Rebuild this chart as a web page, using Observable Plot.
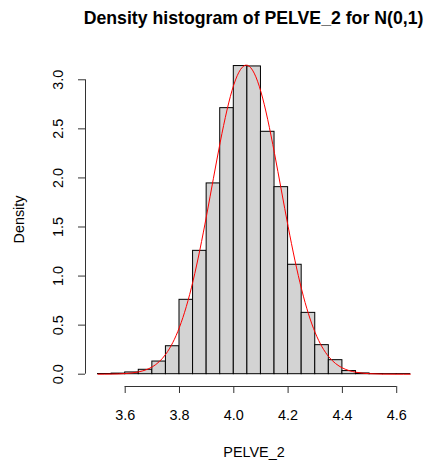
<!DOCTYPE html>
<html>
<head>
<meta charset="utf-8">
<script src="https://cdn.jsdelivr.net/npm/d3@7"></script>
<script src="https://cdn.jsdelivr.net/npm/@observablehq/plot@0.6"></script>
<style>
body{margin:0;background:#fff;font-family:"Liberation Sans",Arial,sans-serif;}
#title{position:relative;width:430px;height:40px;overflow:visible;}
#title span{position:absolute;left:253.5px;top:0;transform:translateX(-50%);font-weight:bold;font-size:17.7px;line-height:37.7px;white-space:nowrap;color:#000;}
</style>
</head>
<body>
<div id="title"><span>Density histogram of PELVE_2 for N(0,1)</span></div>
<div id="chart"></div>
<script>
// Histogram bin edges and densities
const binEdges = [3.50,3.55,3.60,3.65,3.70,3.75,3.80,3.85,3.90,3.95,4.00,4.05,4.10,4.15,4.20,4.25,4.30,4.35,4.40,4.45,4.50,4.55,4.60,4.65];
const binDensity = [0.002,0.006,0.018,0.045,0.129,0.285,0.758,1.257,1.944,2.711,3.140,3.136,2.470,1.906,1.115,0.625,0.296,0.143,0.032,0.008,0.002,0.001,0.001];

// Red normal density curve
const curveX = [3.50,3.55,3.60,3.65,3.70,3.75,3.80,3.85,3.90,3.95,4.00,4.05,4.10,4.15,4.20,4.25,4.30,4.35,4.40,4.45,4.50,4.55,4.60,4.65];
const curveY = [0.0003,0.0015,0.0064,0.024,0.075,0.206,0.479,0.951,1.621,2.364,2.949,3.148,2.877,2.249,1.506,0.862,0.422,0.177,0.064,0.020,0.005,0.001,0.0002,0.0000];

const xTicks = [3.6,3.8,4.0,4.2,4.4,4.6];
const yTicks = [0,0.5,1.0,1.5,2.0,2.5,3.0];

const bins = binDensity.map((d,i)=>({x1:binEdges[i], x2:binEdges[i+1], y:d}));
const curve = curveX.map((x,i)=>({x, y:curveY[i]}));

const xDomain = [3.4538, 4.695];
const yDomain = [-0.1253, 3.278];

const chart = Plot.plot({
  width: 430,
  height: 422,
  marginTop: 12,
  marginBottom: 76,
  marginLeft: 85,
  marginRight: 8,
  x: {domain: xDomain},
  y: {domain: yDomain},
  style: {fontFamily: '"Liberation Sans", Arial, sans-serif', fontSize: "14.4px", color: "#000", background: "#fff"},
  marks: [
    Plot.rectY(bins, {x1: "x1", x2: "x2", y1: 0, y2: "y", fill: "#d3d3d3", stroke: "#000", strokeWidth: 1}),
    Plot.line(curve, {x: "x", y: "y", stroke: "#ff0000", strokeWidth: 1, curve: "natural"}),
    Plot.ruleY([yDomain[0]], {x1: xTicks[0], x2: xTicks[xTicks.length-1], stroke: "#333"}),
    Plot.ruleX([xDomain[0]], {y1: yTicks[0], y2: yTicks[yTicks.length-1], stroke: "#333"}),
    Plot.axisX(xTicks, {tickSize: 7, tickPadding: 16, tickFormat: d => d.toFixed(1), label: null, stroke: "#333"}),
    Plot.axisY(yTicks, {tickSize: 7, tickFormat: () => "", label: null, stroke: "#333"}),
    Plot.text(yTicks, {y: d => d, text: d => d.toFixed(1), frameAnchor: "left", dx: -27, rotate: -90, textAnchor: "middle", lineAnchor: "middle"}),
    Plot.text(["Density"], {text: d => d, frameAnchor: "left", dx: -66, rotate: -90, textAnchor: "middle", lineAnchor: "middle"}),
    Plot.text(["PELVE_2"], {text: d => d, frameAnchor: "bottom", dy: 66, textAnchor: "middle", lineAnchor: "middle"})
  ]
});
document.getElementById("chart").appendChild(chart);
</script>
</body>
</html>
